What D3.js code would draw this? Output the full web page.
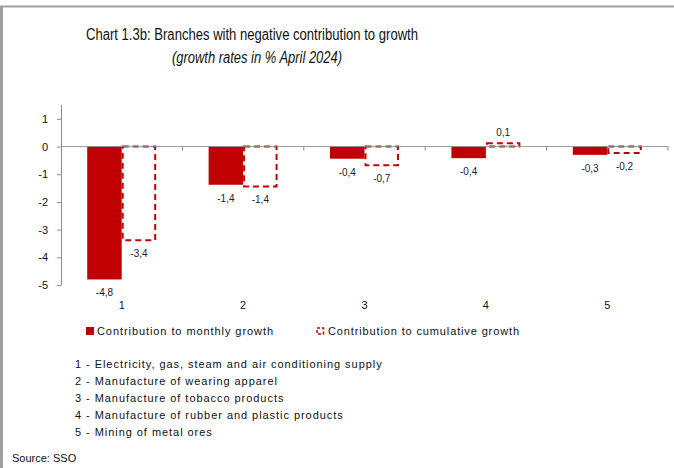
<!DOCTYPE html>
<html>
<head>
<meta charset="utf-8">
<script src="https://cdn.jsdelivr.net/npm/d3@7"></script>
<style>
  body { margin: 0; background: #fff; }
  svg { display: block; font-family: "Liberation Sans", Arial, sans-serif; }
</style>
</head>
<body>
<div id="chart"></div>
<script>
var categories = ['1', '2', '3', '4', '5'];
var monthly = [-4.8, -1.38, -0.44, -0.42, -0.3];
var cumulative = [-3.38, -1.44, -0.68, 0.12, -0.23];
var yTicks = [-5, -4, -3, -2, -1, 0, 1];
var seriesNames = ['Contribution to monthly growth', 'Contribution to cumulative growth'];
var notes = [
  '1 - Electricity, gas, steam and air conditioning supply',
  '2 - Manufacture of wearing apparel',
  '3 - Manufacture of tobacco products',
  '4 - Manufacture of rubber and plastic products',
  '5 - Mining of metal ores'
];

var width = 674, height = 468;
var red = '#c00000', axisColor = '#8c8c8c';

var svg = d3.select('#chart').append('svg').attr('width', width).attr('height', height);

// frame
svg.append('line').attr('x1', 0).attr('x2', width).attr('y1', 6.5).attr('y2', 6.5)
  .attr('stroke', '#a0a0a0').attr('stroke-width', 2);
svg.append('line').attr('x1', 1.5).attr('x2', 1.5).attr('y1', 6).attr('y2', height)
  .attr('stroke', '#a0a0a0').attr('stroke-width', 3);

// titles
svg.append('text').attr('x', 252).attr('y', 40).attr('text-anchor', 'middle')
  .attr('textLength', 332).attr('lengthAdjust', 'spacingAndGlyphs')
  .style('font-size', '16px').style('fill', '#111')
  .text('Chart 1.3b: Branches with negative contribution to growth');
svg.append('text').attr('x', 257).attr('y', 63).attr('text-anchor', 'middle')
  .attr('textLength', 170).attr('lengthAdjust', 'spacingAndGlyphs')
  .style('font-size', '16px').style('font-style', 'italic').style('fill', '#111')
  .text('(growth rates in % April 2024)');

var x = d3.scaleBand().domain(categories).range([61, 668]);
var xSub = d3.scaleBand().domain(['m', 'c']).range([0, x.bandwidth()]).paddingOuter(0.76);
var y = d3.scaleLinear().domain([-5, 1.5]).range([285, 105]);

var rows = categories.map(function (c, i) {
  return { cat: c, m: monthly[i], c: cumulative[i] };
});

var fmt = function (v) { return d3.format('.1f')(v).replace('.', ',').replace('−', '-'); };

var g = svg.append('g');

// monthly bars
g.selectAll('rect.m').data(rows).enter().append('rect').attr('class', 'm')
  .attr('x', function (d) { return x(d.cat) + xSub('m'); })
  .attr('width', xSub.bandwidth())
  .attr('y', function (d) { return y(Math.max(0, d.m)); })
  .attr('height', function (d) { return Math.abs(y(d.m) - y(0)); })
  .attr('fill', red);

// cumulative bars (dashed outline)
g.selectAll('rect.c').data(rows).enter().append('rect').attr('class', 'c')
  .attr('x', function (d) { return x(d.cat) + xSub('c') + 1; })
  .attr('width', xSub.bandwidth() - 2)
  .attr('y', function (d) { return y(Math.max(0, d.c)); })
  .attr('height', function (d) { return Math.abs(y(d.c) - y(0)); })
  .attr('fill', '#fff').attr('stroke', red).attr('stroke-width', 2)
  .attr('stroke-dasharray', '6,4');

// value labels
var labels = [];
rows.forEach(function (d) {
  labels.push({ cat: d.cat, key: 'm', v: d.m });
  labels.push({ cat: d.cat, key: 'c', v: d.c });
});
g.selectAll('text.val').data(labels).enter().append('text').attr('class', 'val')
  .attr('x', function (d) { return x(d.cat) + xSub(d.key) + xSub.bandwidth() / 2; })
  .attr('y', function (d) { return d.v < 0 ? y(d.v) + 17 : y(d.v) - 7; })
  .attr('text-anchor', 'middle').style('font-size', '10px').style('fill', '#222')
  .text(function (d) { return fmt(d.v); });

// zero line with category boundary ticks
svg.append('line').attr('x1', 61).attr('x2', 668).attr('y1', y(0)).attr('y2', y(0))
  .attr('stroke', axisColor).attr('stroke-width', 1).attr('opacity', 0.85);
svg.selectAll('line.xt').data(categories).enter().append('line').attr('class', 'xt')
  .attr('x1', function (d) { return x(d) + x.bandwidth(); })
  .attr('x2', function (d) { return x(d) + x.bandwidth(); })
  .attr('y1', y(0)).attr('y2', y(0) + 4).attr('stroke', axisColor);

// category labels
svg.selectAll('text.cat').data(categories).enter().append('text').attr('class', 'cat')
  .attr('x', function (d) { return x(d) + x.bandwidth() / 2; })
  .attr('y', 309).attr('text-anchor', 'middle').style('font-size', '11px').style('fill', '#111')
  .text(function (d) { return d; });

// y axis
var yAxis = svg.append('g').attr('transform', 'translate(61,0)')
  .call(d3.axisLeft(y).tickValues(yTicks).tickSize(4).tickPadding(9)
    .tickFormat(function (d) { return d3.format('d')(d).replace('−', '-'); }));
yAxis.select('.domain').attr('stroke', axisColor).attr('d', 'M0.5,' + y(1.5) + 'V' + y(-5));
yAxis.selectAll('.tick line').attr('stroke', axisColor);
yAxis.selectAll('.tick text').style('font-size', '11px').style('fill', '#111')
  .style('font-family', '"Liberation Sans", Arial, sans-serif');

// legend
var leg = svg.append('g');
leg.append('rect').attr('x', 86).attr('y', 327).attr('width', 8).attr('height', 8).attr('fill', red);
leg.append('text').attr('x', 97).attr('y', 335).style('font-size', '11px').style('fill', '#111')
  .attr('textLength', 176).attr('lengthAdjust', 'spacing').text(seriesNames[0]);
leg.append('rect').attr('x', 317).attr('y', 328).attr('width', 6.5).attr('height', 6)
  .attr('fill', '#fff').attr('stroke', red).attr('stroke-width', 1.5).attr('stroke-dasharray', '3,2');
leg.append('text').attr('x', 328).attr('y', 335).style('font-size', '11px').style('fill', '#111')
  .attr('textLength', 191).attr('lengthAdjust', 'spacing').text(seriesNames[1]);

// footnotes
svg.selectAll('text.note').data(notes).enter().append('text').attr('class', 'note')
  .attr('x', 75).attr('y', function (d, i) { return 368 + i * 17; })
  .style('font-size', '11px').style('fill', '#111').style('letter-spacing', '0.95px')
  .text(function (d) { return d; });

svg.append('text').attr('x', 12).attr('y', 462).style('font-size', '11px').style('fill', '#111')
  .text('Source: SSO');
</script>
</body>
</html>
